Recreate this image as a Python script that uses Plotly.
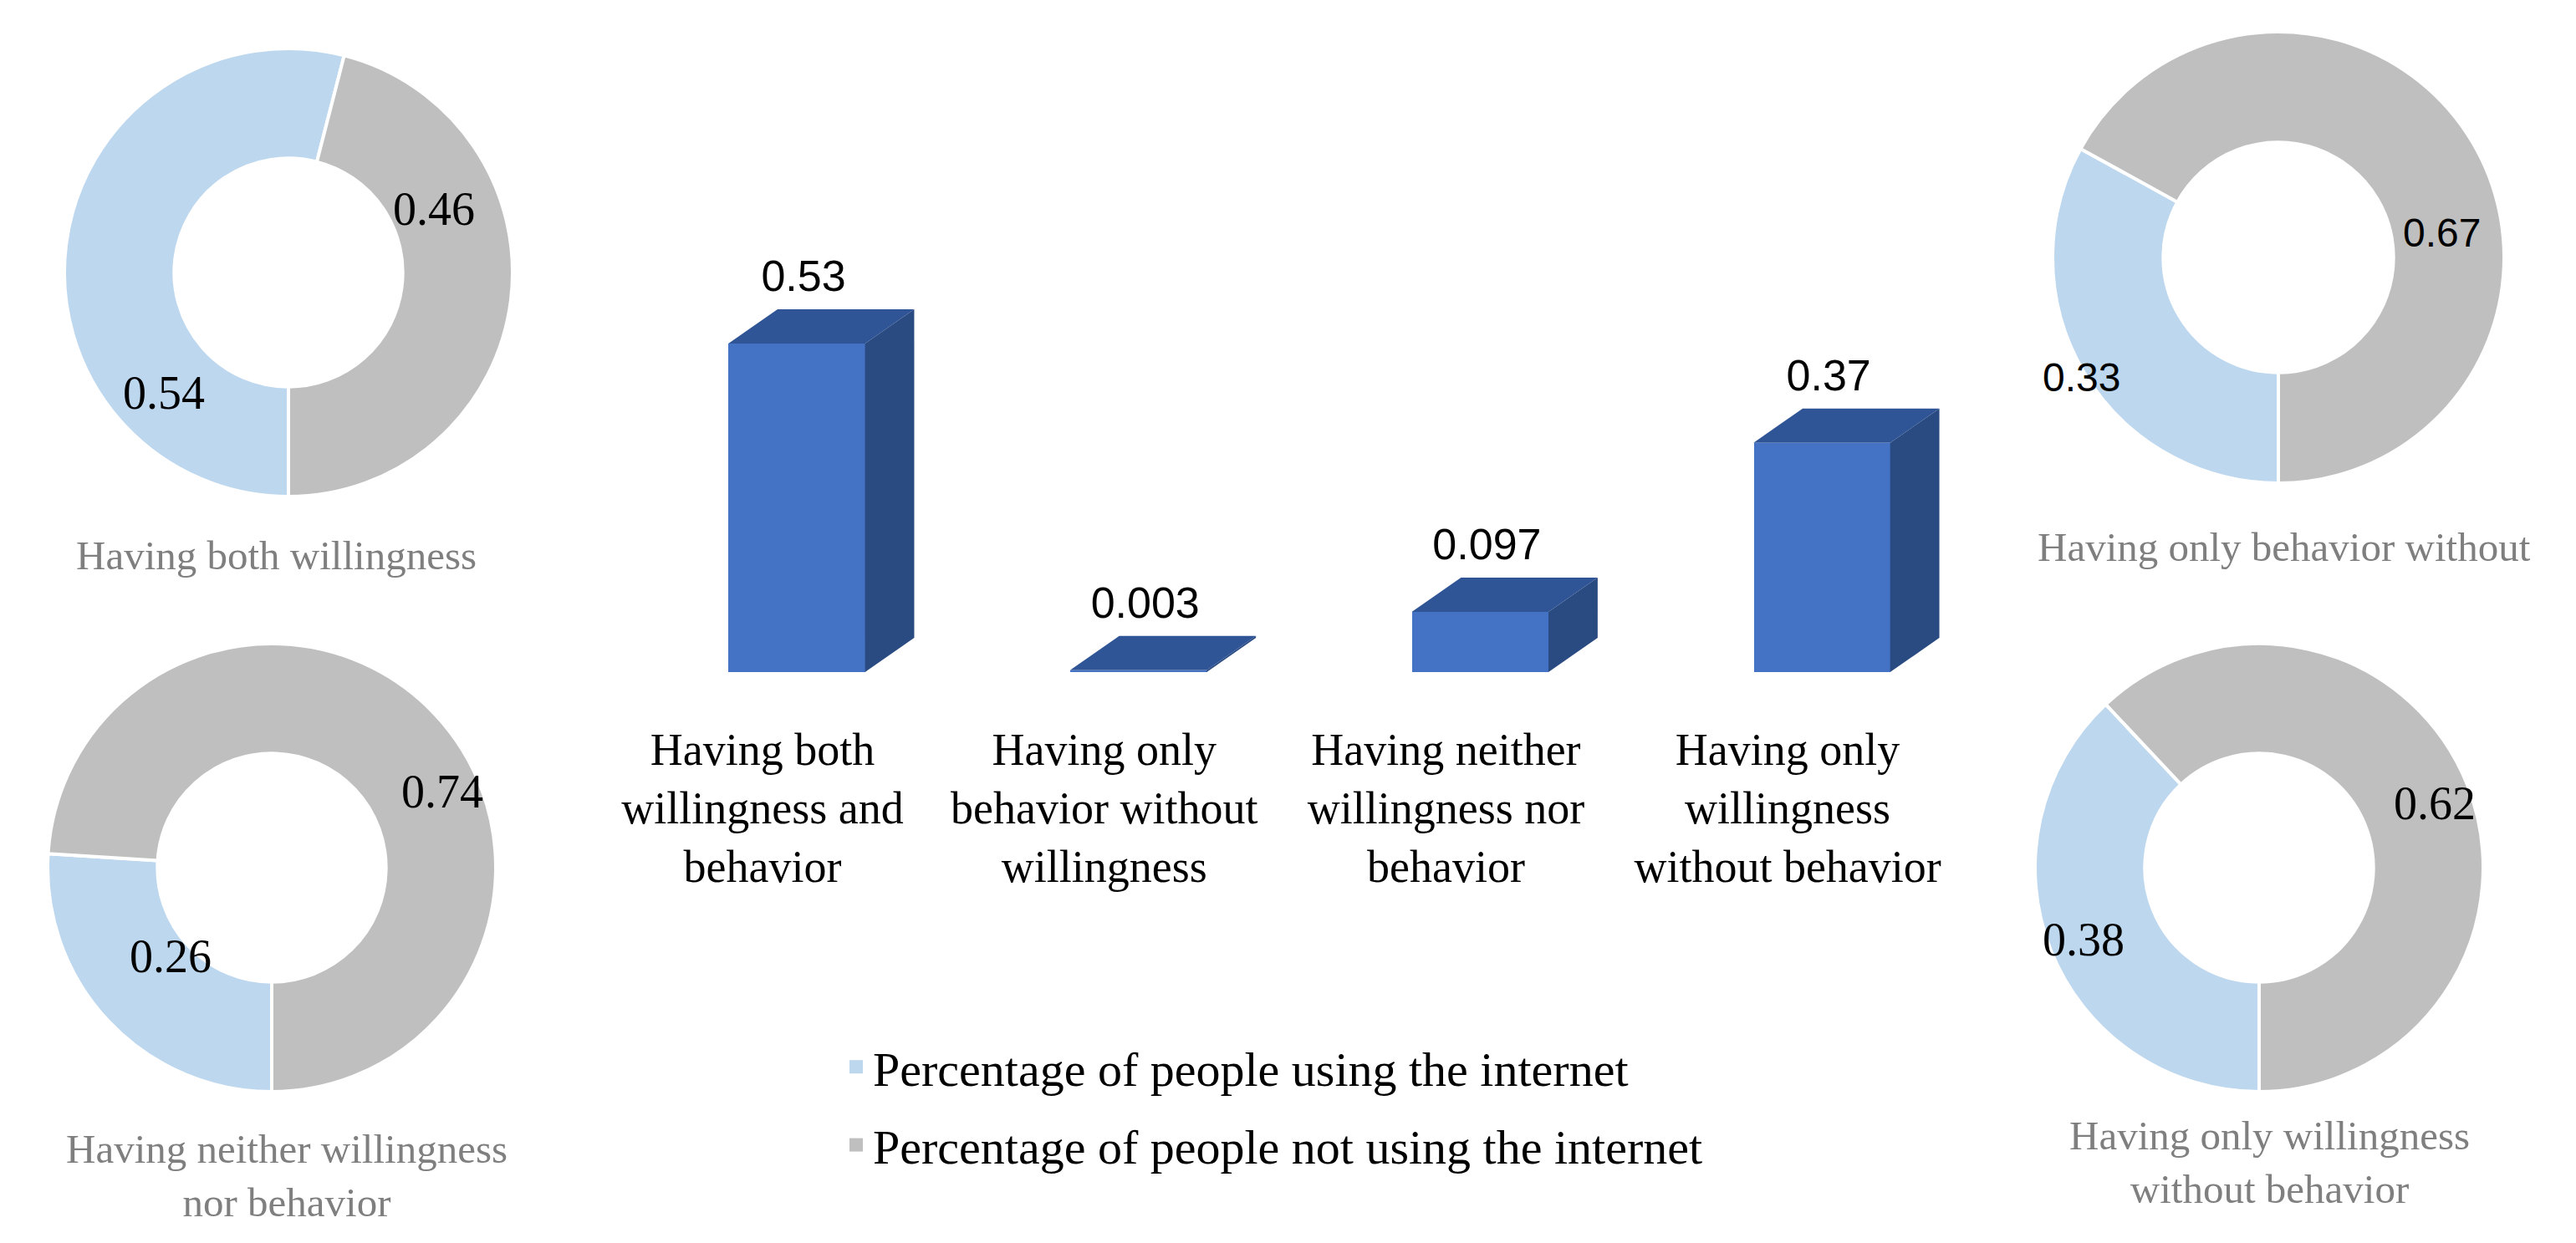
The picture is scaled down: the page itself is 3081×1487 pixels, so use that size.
import plotly.graph_objects as go

# ---------------- data ----------------
categories = [
    "Having both<br>willingness and<br>behavior",
    "Having only<br>behavior without<br>willingness",
    "Having neither<br>willingness nor<br>behavior",
    "Having only<br>willingness<br>without behavior",
]
bar_values = [0.53, 0.003, 0.097, 0.37]
bar_labels = ["0.53", "0.003", "0.097", "0.37"]

donut_titles = [
    "Having both willingness",
    "Having only behavior without",
    "Having neither willingness<br>nor behavior",
    "Having only willingness<br>without behavior",
]
using_internet = [0.54, 0.33, 0.26, 0.38]
not_using_internet = [0.46, 0.67, 0.74, 0.62]
legend_labels = ["Percentage of people using the internet",
                 "Percentage of people not using the internet"]

# ---------------- layout / style ----------------
W, H = 3081, 1487
def px(x): return x / W
def py(y): return 1 - y / H

SERIF = "Liberation Serif, Times New Roman, serif"
SANS = "Liberation Sans, Arial, sans-serif"
FRONT, TOP, SIDE = "#4472C4", "#2F5597", "#2A4A82"
BLUE_L, GREY = "#BDD7EE", "#BFBFBF"

OFF, BW = -0.1, 0.4      # bar front face offset & width (category units)
DX, DY = 0.144, 0.0553   # 3-D depth offsets (category units, value units)
LABEL_PAD = 0.012        # gap between bar top and its value label (value units)

fig = go.Figure()

# front faces
fig.add_trace(go.Bar(x=list(range(len(bar_values))), y=bar_values, offset=OFF, width=BW,
                     marker=dict(color=FRONT, line=dict(width=0)), showlegend=False,
                     hoverinfo="skip", xaxis="x", yaxis="y"))
# top & side faces
for i, v in enumerate(bar_values):
    x0, x1 = i + OFF, i + OFF + BW
    fig.add_trace(go.Scatter(x=[x0, x1, x1 + DX, x0 + DX, x0], y=[v, v, v + DY, v + DY, v],
                             fill="toself", fillcolor=TOP, mode="lines",
                             line=dict(width=0, color=TOP), showlegend=False, hoverinfo="skip"))
    fig.add_trace(go.Scatter(x=[x1, x1 + DX, x1 + DX, x1, x1], y=[0, DY, v + DY, v, 0],
                             fill="toself", fillcolor=SIDE, mode="lines",
                             line=dict(width=0, color=SIDE), showlegend=False, hoverinfo="skip"))
# value labels
fig.add_trace(go.Scatter(x=[i + OFF + BW / 2 + 0.02 for i in range(len(bar_values))],
                         y=[v + DY + LABEL_PAD for v in bar_values], mode="text", text=bar_labels,
                         textposition="top center",
                         textfont=dict(family=SANS, size=52, color="black"),
                         showlegend=False, hoverinfo="skip"))

# donuts: (cx, cy, r) in pixels
donut_geom = [(337, 318, 268), (2717, 300, 270), (317, 1030, 268), (2694, 1030, 268)]
title_pos = [(322, 656), (2724, 646), (335, 1398), (2706, 1382)]
value_pos = [((188, 462), (511, 242)), ((2481, 444), (2912, 271)),
             ((196, 1136), (521, 939)), ((2484, 1116), (2904, 953))]
value_font = [SERIF, SANS, SERIF, SERIF]
value_size = [56, 48, 56, 56]

annotations = []
for k in range(4):
    cx, cy, r = donut_geom[k]
    fig.add_trace(go.Pie(
        values=[using_internet[k], not_using_internet[k]], labels=legend_labels,
        hole=0.51, sort=False, direction="clockwise", rotation=180,
        marker=dict(colors=[BLUE_L, GREY], line=dict(color="white", width=4)),
        textinfo="none", hoverinfo="label+value", showlegend=False,
        domain=dict(x=[px(cx - r), px(cx + r)], y=[py(cy + r), py(cy - r)])))
    tx, ty = title_pos[k]
    annotations.append(dict(x=px(tx), y=py(ty), xref="paper", yref="paper", text=donut_titles[k],
                            showarrow=False, xanchor="center", yanchor="middle",
                            font=dict(family=SERIF, size=49, color="#7F7F7F")))
    for (lx, ly), val in zip(value_pos[k], [using_internet[k], not_using_internet[k]]):
        annotations.append(dict(x=px(lx), y=py(ly), xref="paper", yref="paper", text=f"{val:.2f}",
                                showarrow=False, xanchor="center", yanchor="middle",
                                font=dict(family=value_font[k], size=value_size[k], color="black")))

# legend entries (square swatches in the donut colours)
for name, col, grp in zip(legend_labels, [BLUE_L, GREY], ["use", "nouse"]):
    fig.add_trace(go.Scatter(x=[None], y=[None], mode="markers", name=name, legendgroup=grp,
                             marker=dict(symbol="square", size=16, color=col), hoverinfo="skip"))

# bar axes: y=0 at 796 px, 741.5 px per unit; category 0 at 904 px, 408.7 px per category
y_rng = [0, 0.7]
y_dom = [py(796), py(796 - 0.7 * 741.5)]
x_rng = [-0.5, 3.5]
x_dom = [px(904 - 0.5 * 408.7), px(904 + 3.5 * 408.7)]

fig.update_layout(
    width=W, height=H, autosize=False,
    margin=dict(l=0, r=0, t=0, b=0),
    paper_bgcolor="white", plot_bgcolor="rgba(0,0,0,0)",
    showlegend=True,
    xaxis=dict(domain=x_dom, range=x_rng, tickvals=list(range(len(categories))), ticktext=categories,
               showgrid=False, zeroline=False, showline=False, ticks="",
               ticklabelstandoff=56, fixedrange=True,
               tickfont=dict(family=SERIF, size=54, color="black")),
    yaxis=dict(domain=y_dom, range=y_rng, visible=False, fixedrange=True),
    legend=dict(x=px(996), y=py(1224), xanchor="left", yanchor="top", orientation="v",
                traceorder="grouped", tracegroupgap=15, itemwidth=30,
                font=dict(family=SERIF, size=58, color="black"), bgcolor="rgba(0,0,0,0)"),
    annotations=annotations,
    bargap=0,
)

fig.write_html("out.html")
